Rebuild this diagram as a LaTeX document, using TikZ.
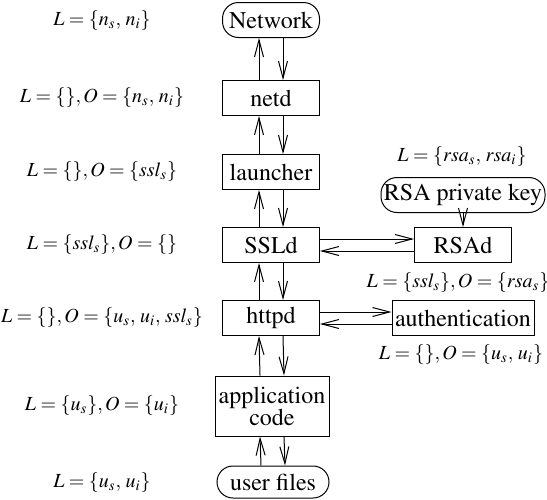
\documentclass[tikz,border=0pt]{standalone}
\usepackage[T1]{fontenc}
\usepackage{mathptmx}
\usetikzlibrary{arrows.meta}
\begin{document}
\begin{tikzpicture}[x=0.5pt,y=-0.5pt,
  font=\fontsize{12}{13}\selectfont,
  box/.style={draw,line width=0.5pt,minimum width=48.5pt,minimum height=17.5pt,inner sep=1pt},
  oval/.style={box,rounded corners=8pt},
  lab/.style={font=\fontsize{10}{11}\selectfont,inner sep=0pt},
  arr/.style={line width=0.5pt,-{Straight Barb[length=8.5pt,width=4.5pt,line width=0.5pt]}}]
\useasboundingbox (0,0) rectangle (547,499);
% column
\node[oval] (net) at (271,20) {Network};
\node[box] (netd) at (271,98) {netd};
\node[box] (launch) at (271,172) {launcher};
\node[box] (ssld) at (271,245) {SSLd};
\node[box] (httpd) at (271,318) {httpd};
\node[box,minimum width=57pt,minimum height=30pt,align=center] (app) at (272,406) {application\\[-2pt]code};
\node[oval,minimum width=56pt,minimum height=16pt] (files) at (273,482) {user files};
% right
\node[oval,minimum width=82pt] (key) at (463,195) {RSA private key};
\node[box] (rsad) at (463,245) {RSAd};
\node[box,minimum width=71pt] (auth) at (463,318) {authentication};
% vertical connectors
\foreach \a/\b in {netd/net,launch/netd,ssld/launch,httpd/ssld,app/httpd,files/app}{
  \draw[arr] ([xshift=-6pt]\a.north) -- ([xshift=-6pt]\b.south);
  \draw[arr] ([xshift=6pt]\b.south) -- ([xshift=6pt]\a.north);
}
\draw[arr] (key) -- (rsad);
% horizontal connectors
\draw[arr] ([yshift=3pt]ssld.east) -- ([yshift=3pt]rsad.west);
\draw[arr] ([yshift=-3pt]rsad.west) -- ([yshift=-3pt]ssld.east);
\draw[arr] ([yshift=3pt]httpd.east) -- ([yshift=3pt]auth.west);
\draw[arr] ([yshift=-3pt]auth.west) -- ([yshift=-3pt]httpd.east);
% labels
\node[lab] (l1) at (102,21) {$L=\{n_s,\,n_i\}$};
\node[lab] (l2) at (102,98) {$L=\{\},O=\{n_s,\,n_i\}$};
\node[lab] (l3) at (102,172) {$L=\{\},O=\{ssl_s\}$};
\node[lab] (l4) at (102,245) {$L=\{ssl_s\},O=\{\}$};
\node[lab] (l5) at (102,318) {$L=\{\},O=\{u_s,\,u_i,\,ssl_s\}$};
\node[lab] (l6) at (102,406) {$L=\{u_s\},O=\{u_i\}$};
\node[lab] (l7) at (102,483) {$L=\{u_s,\,u_i\}$};
\node[lab] (r1) at (462,157) {$L=\{rsa_s,\,rsa_i\}$};
\node[lab] (r2) at (458,283) {$L=\{ssl_s\},O=\{rsa_s\}$};
\node[lab] (r3) at (461,355) {$L=\{\},O=\{u_s,\,u_i\}$};
\end{tikzpicture}
\end{document}
